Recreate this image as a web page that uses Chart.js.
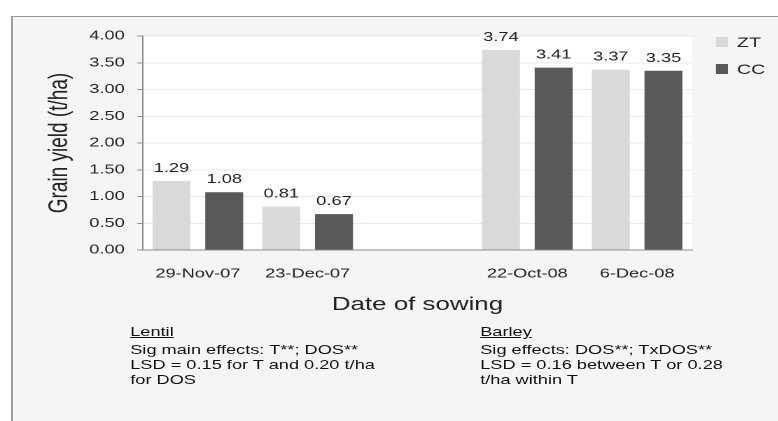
<!DOCTYPE html>
<html>
<head>
<meta charset="utf-8">
<script src="https://cdn.jsdelivr.net/npm/chart.js@4.4.1/dist/chart.umd.min.js"></script>
<style>
  html, body { margin: 0; padding: 0; background: #fff; width: 778px; height: 421px; overflow: hidden; }
  #frame {
    position: absolute; left: 11px; top: 16px; width: 800px; height: 420px;
    background: #f5f5f5; border-left: 2px solid #9c9c9c; border-top: 1px solid #9c9c9c;
  }
  #stretch {
    position: absolute; left: 0; top: 0; width: 556px; height: 421px;
    transform: scaleX(1.4); transform-origin: 0 0;
  }
  #chart { position: absolute; left: 0; top: 0; }
  .note {
    position: absolute; font-family: 'Liberation Sans', Arial, sans-serif;
    font-size: 13px; line-height: 15px; color: #111; white-space: nowrap;
  }
  .note u { display: inline-block; margin-bottom: 3px; }
</style>
</head>
<body>
<div id="frame"></div>
<div id="stretch">
  <canvas id="chart" width="556" height="421"></canvas>
  <div class="note" style="left:93px; top:324px;">
    <u>Lentil</u><br>
    Sig main effects: T**; DOS**<br>
    LSD = 0.15 for T and 0.20 t/ha<br>
    for DOS
  </div>
  <div class="note" style="left:343px; top:324px;">
    <u>Barley</u><br>
    Sig effects: DOS**; TxDOS**<br>
    LSD = 0.16 between T or 0.28<br>
    t/ha within T
  </div>
</div>
<script>
const categories = ['29-Nov-07', '23-Dec-07', '', '22-Oct-08', '6-Dec-08'];
const seriesNames = ['ZT', 'CC'];
const ztYield = [1.29, 0.81, null, 3.74, 3.37];
const ccYield = [1.08, 0.67, null, 3.41, 3.35];
const yMin = 0;
const yMax = 4;
const yStep = 0.5;

const FONT = "'Liberation Sans', Arial, sans-serif";
const colors = ['#d9d9d9', '#595959'];

// white plot area on the grey panel
const plotBg = {
  id: 'plotBg',
  beforeDraw(chart) {
    const { ctx, chartArea: a } = chart;
    ctx.save();
    ctx.fillStyle = '#ffffff';
    ctx.fillRect(a.left, a.top, a.right - a.left, a.bottom - a.top);
    ctx.restore();
  }
};

// value labels above bars
const barLabels = {
  id: 'barLabels',
  afterDatasetsDraw(chart) {
    const ctx = chart.ctx;
    ctx.save();
    ctx.font = '13px ' + FONT;
    ctx.fillStyle = '#222';
    ctx.textAlign = 'center';
    ctx.textBaseline = 'alphabetic';
    chart.data.datasets.forEach((ds, i) => {
      chart.getDatasetMeta(i).data.forEach((bar, j) => {
        const v = ds.data[j];
        if (v == null) return;
        ctx.fillText(v.toFixed(2), bar.x, bar.y - 9);
      });
    });
    ctx.restore();
  }
};

// legend box on the right
const sideLegend = {
  id: 'sideLegend',
  afterDraw(chart) {
    const ctx = chart.ctx;
    ctx.save();
    ctx.font = '14px ' + FONT;
    ctx.textBaseline = 'middle';
    ctx.textAlign = 'left';
    chart.data.datasets.forEach((ds, i) => {
      const cy = 42 + i * 27;
      ctx.fillStyle = ds.backgroundColor;
      ctx.fillRect(511.4, cy - 5, 8.6, 10);
      ctx.fillStyle = '#222';
      ctx.fillText(ds.label, 526.4, cy + 1);
    });
    ctx.restore();
  }
};

new Chart(document.getElementById('chart'), {
  type: 'bar',
  data: {
    labels: categories,
    datasets: [
      { label: seriesNames[0], data: ztYield, backgroundColor: colors[0] },
      { label: seriesNames[1], data: ccYield, backgroundColor: colors[1] }
    ]
  },
  options: {
    responsive: false,
    animation: false,
    devicePixelRatio: 2,
    datasets: { bar: { categoryPercentage: 0.96, barPercentage: 0.72 } },
    layout: { padding: { left: 27.5, top: 36, right: 61.7, bottom: 101 } },
    plugins: { legend: { display: false }, tooltip: { enabled: false } },
    scales: {
      x: {
        grid: { display: false, drawTicks: false },
        border: { display: true, color: '#8c8c8c' },
        ticks: { color: '#222', font: { family: FONT, size: 13 }, padding: 16, maxRotation: 0 },
        title: { display: true, text: 'Date of sowing', color: '#222', font: { family: FONT, size: 18.5 } },
        afterFit(s) { s.height = 70; }
      },
      y: {
        min: yMin,
        max: yMax,
        grid: { color: '#ebebe0', tickColor: '#8c8c8c', tickLength: 4 },
        border: { color: '#8c8c8c' },
        ticks: {
          stepSize: yStep,
          color: '#222',
          padding: 9,
          font: { family: FONT, size: 13 },
          callback: v => v.toFixed(2)
        },
        title: { display: true, text: 'Grain yield (t/ha)', color: '#222', font: { family: FONT, size: 19 } },
        afterFit(s) { s.width = 74.6; }
      }
    }
  },
  plugins: [plotBg, barLabels, sideLegend]
});
</script>
</body>
</html>
